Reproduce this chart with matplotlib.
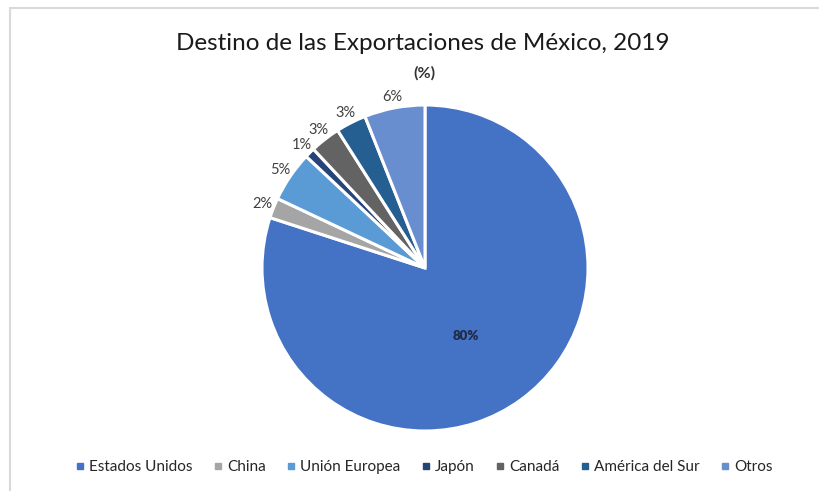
import numpy as np
import matplotlib.pyplot as plt
from matplotlib.patches import Rectangle

plt.rcParams['font.family'] = ['Lato', 'DejaVu Sans']

# Destino de las exportaciones (%)
destinos = ['Estados Unidos', 'China', 'Unión Europea', 'Japón', 'Canadá',
            'América del Sur', 'Otros']
porcentajes = [80, 2, 5, 1, 3, 3, 6]
colores = ['#4472C4', '#A5A5A5', '#5B9BD5', '#264478', '#636363',
           '#255E91', '#698ED0']

fig = plt.figure(figsize=(8.2, 4.91), dpi=100)
fig.patch.set_facecolor('white')

# marco del area del grafico
fig.add_artist(Rectangle((10 / 820, -0.05), 1.2, (491 - 8) / 491 + 0.05,
                         transform=fig.transFigure, fill=False,
                         edgecolor='#d9d9d9', linewidth=1.5))

r_px = 163
cx, cy = 425, 268
ax = fig.add_axes([(cx - r_px) / 820, (491 - cy - r_px) / 491,
                   2 * r_px / 820, 2 * r_px / 491])
wedges, _ = ax.pie(porcentajes, colors=colores, startangle=90,
                   counterclock=False, radius=1.0,
                   wedgeprops=dict(edgecolor='white', linewidth=2.2))
ax.set_xlim(-1, 1)
ax.set_ylim(-1, 1)
ax.set_aspect('auto')
ax.axis('off')

for i, w in enumerate(wedges):
    ang = np.deg2rad((w.theta1 + w.theta2) / 2)
    if i == 0:
        ax.text(0.25, -0.42, f'{porcentajes[i]}%', ha='center', va='center',
                fontsize=9.5, fontweight='heavy', color='#1f2a44')
    else:
        d = 1.07
        ax.text(d * np.cos(ang), d * np.sin(ang), f'{porcentajes[i]}%',
                ha='center', va='center', fontsize=10.5, color='#404040')

fig.text(0.515, 0.911, 'Destino de las Exportaciones de México, 2019',
         ha='center', va='center', fontsize=17.5, color='#1a1a1a')
fig.text(0.518, 0.850, '(%)', ha='center', va='center', fontsize=11.5,
         fontweight='bold', color='#333333')

handles = [plt.Line2D([], [], marker='s', linestyle='', markersize=5,
                      color=c) for c in colores]
fig.legend(handles, destinos, loc='center', bbox_to_anchor=(0.517, 0.049),
           ncol=7, frameon=False, fontsize=11, handlelength=0.6,
           handletextpad=0.3, columnspacing=1.35, labelcolor='#262626')

fig.savefig('out.png', dpi=100, facecolor='white')
